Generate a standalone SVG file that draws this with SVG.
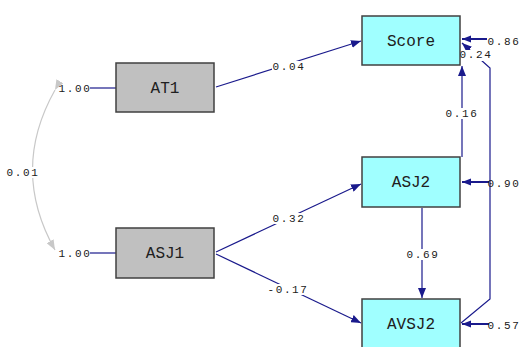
<svg xmlns="http://www.w3.org/2000/svg" width="519" height="347" viewBox="0 0 519 347">
<style>
.box{stroke:#404040;stroke-width:1.5}
.obs{fill:#c0c0c0}
.endo{fill:#a0ffff}
.name{font-family:"Liberation Mono",monospace;font-size:16px;fill:#202020;text-anchor:middle}
.lbl{font-family:"Liberation Mono",monospace;font-size:11px;letter-spacing:1.6px;fill:#202020;text-anchor:middle}
.ln{fill:none;stroke:#1a1a8c;stroke-width:1.2}
.err{fill:none;stroke:#1a1a8c;stroke-width:2}
.bg{fill:#ffffff}
</style>
<defs>
<marker id="ah" viewBox="0 0 10 8" refX="10" refY="4" markerWidth="10" markerHeight="8" markerUnits="userSpaceOnUse" orient="auto">
<path d="M0,0 L10,4 L0,8 Z" fill="#1a1a8c"/>
</marker>
<marker id="ahe" viewBox="0 0 10 8" refX="10" refY="4" markerWidth="9" markerHeight="8" markerUnits="userSpaceOnUse" orient="auto">
<path d="M0,0 L10,4 L0,8 Z" fill="#1a1a8c"/>
</marker>
<marker id="ahg" viewBox="0 0 10 8" refX="10" refY="4" markerWidth="10" markerHeight="8" markerUnits="userSpaceOnUse" orient="auto">
<path d="M0,0 L10,4 L0,8 Z" fill="#c8c8c8"/>
</marker>
</defs>

<g id="connectors">
<path d="M55,90 Q10,170 55,250" fill="none" stroke="#c8c8c8" stroke-width="1.2" marker-start="url(#ahg)" marker-end="url(#ahg)"/>
<line class="ln" x1="90" y1="88" x2="116" y2="88"/>
<line class="ln" x1="90" y1="253" x2="116" y2="253"/>
<line class="ln" x1="216" y1="87" x2="361" y2="41" marker-end="url(#ah)"/>
<line class="ln" x1="216" y1="252" x2="361" y2="184" marker-end="url(#ah)"/>
<line class="ln" x1="216" y1="254" x2="361" y2="323" marker-end="url(#ah)"/>
<line class="ln" x1="462" y1="157" x2="462" y2="66" marker-end="url(#ah)"/>
<line class="ln" x1="422" y1="208" x2="422" y2="298" marker-end="url(#ah)"/>
<polyline class="ln" points="461,323 490,299 490,68 462,43" marker-end="url(#ah)"/>
<line class="err" x1="487" y1="39" x2="462" y2="39" marker-end="url(#ahe)"/>
<line class="err" x1="489" y1="182" x2="462" y2="182" marker-end="url(#ahe)"/>
<line class="err" x1="489" y1="324" x2="462" y2="324" marker-end="url(#ahe)"/>
</g>

<g id="labels">
<text class="lbl" x="75" y="92">1.00</text>
<text class="lbl" x="75" y="257">1.00</text>
<rect class="bg" x="8" y="167" width="30" height="11"/>
<text class="lbl" x="23" y="176">0.01</text>
<rect class="bg" x="272" y="61" width="33" height="11"/>
<text class="lbl" x="289" y="70">0.04</text>
<rect class="bg" x="272" y="213" width="33" height="11"/>
<text class="lbl" x="289" y="222">0.32</text>
<rect class="bg" x="268" y="284" width="40" height="11"/>
<text class="lbl" x="288" y="293">-0.17</text>
<rect class="bg" x="446" y="108" width="32" height="11"/>
<text class="lbl" x="462" y="117">0.16</text>
<rect class="bg" x="406" y="249" width="33" height="11"/>
<text class="lbl" x="423" y="258">0.69</text>
<rect class="bg" x="459" y="50" width="34" height="11"/>
<text class="lbl" x="476" y="58">0.24</text>
<text class="lbl" x="504" y="45">0.86</text>
<text class="lbl" x="504" y="187">0.90</text>
<text class="lbl" x="504" y="329">0.57</text>
</g>

<g id="AT1">
<rect class="box obs" x="116" y="63" width="98" height="49"/>
<text class="name" x="165" y="93">AT1</text>
</g>
<g id="ASJ1">
<rect class="box obs" x="116" y="228" width="98" height="50"/>
<text class="name" x="165" y="258">ASJ1</text>
</g>
<g id="Score">
<rect class="box endo" x="362" y="16" width="98" height="49"/>
<text class="name" x="411" y="46">Score</text>
</g>
<g id="ASJ2">
<rect class="box endo" x="362" y="157" width="98" height="50"/>
<text class="name" x="411" y="187">ASJ2</text>
</g>
<g id="AVSJ2">
<rect class="box endo" x="362" y="299" width="98" height="50"/>
<text class="name" x="411" y="329">AVSJ2</text>
</g>
</svg>
